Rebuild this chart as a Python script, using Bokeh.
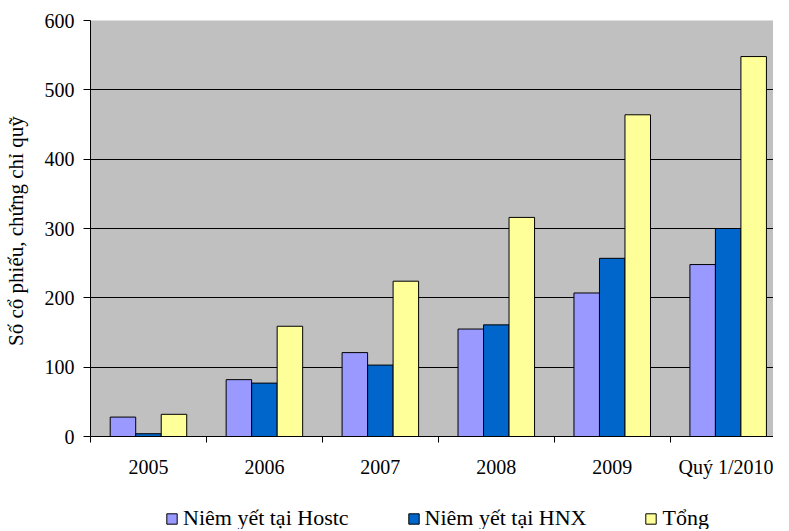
import numpy as np
from bokeh.plotting import figure
from bokeh.layouts import column
from bokeh.models import FixedTicker, Legend, LegendItem, Range1d
from bokeh.embed import file_html
from bokeh.resources import INLINE

categories = ["2005", "2006", "2007", "2008", "2009", "Quý 1/2010"]
hostc = [28, 82, 121, 155, 207, 248]
hnx = [4, 77, 103, 161, 257, 300]
tong = [32, 159, 224, 316, 464, 548]
series_names = ["Niêm yết tại Hostc", "Niêm yết tại HNX", "Tổng"]
colors = ["#9999FF", "#0066CC", "#FFFF99"]
y_ticks = [0, 100, 200, 300, 400, 500, 600]

FONT = "Liberation Serif"

p = figure(width=773, height=481, output_backend="svg", toolbar_location=None,
           x_range=Range1d(0, 5.891), y_range=Range1d(0, 600),
           min_border_left=82, min_border_right=0, min_border_top=20,
           min_border_bottom=45)
p.background_fill_color = "#C0C0C0"
p.border_fill_color = "white"
p.outline_line_color = None

centers = np.arange(len(categories)) + 0.5
bw = 0.22
series = [hostc, hnx, tong]
offsets = [-bw, 0, bw]
for vals, off, col in zip(series, offsets, colors):
    p.vbar(x=centers + off, top=vals, width=bw, bottom=0,
           fill_color=col, line_color="black", line_width=1)

# x axis
p.xaxis.ticker = FixedTicker(ticks=list(centers), minor_ticks=list(range(len(categories))))
p.xaxis.major_label_overrides = {float(c): lab for c, lab in zip(centers, categories)}
p.xaxis.major_tick_line_color = None
p.xaxis.major_tick_out = 0
p.xaxis.major_tick_in = 0
p.xaxis.minor_tick_line_color = "black"
p.xaxis.minor_tick_out = 6
p.xaxis.minor_tick_in = 0
p.xaxis.major_label_standoff = 13
p.xaxis.axis_line_color = "black"
p.xaxis.major_label_text_font = FONT
p.xaxis.major_label_text_font_size = "20px"
p.xaxis.major_label_text_color = "black"
p.xgrid.grid_line_color = None

# y axis
p.yaxis.ticker = FixedTicker(ticks=y_ticks)
p.yaxis.minor_tick_line_color = None
p.yaxis.major_tick_out = 7
p.yaxis.major_tick_in = 0
p.yaxis.major_tick_line_color = "black"
p.yaxis.axis_line_color = "black"
p.yaxis.major_label_standoff = 9
p.yaxis.major_label_text_font = FONT
p.yaxis.major_label_text_font_size = "20px"
p.yaxis.major_label_text_color = "black"
p.yaxis.axis_label = "Số cổ phiếu,  chứng chỉ quỹ"
p.yaxis.axis_label_text_font = FONT
p.yaxis.axis_label_text_font_size = "21px"
p.yaxis.axis_label_text_font_style = "normal"
p.yaxis.axis_label_text_color = "black"
p.yaxis.axis_label_standoff = 14
p.ygrid.grid_line_color = "black"
p.ygrid.grid_line_width = 1

# legend strip: same series as hidden renderers, only their legend entries show
pl = figure(width=773, height=48, output_backend="svg", toolbar_location=None,
            x_range=Range1d(0, 5.891), y_range=Range1d(0, 600),
            min_border_left=0, min_border_right=0, min_border_top=0, min_border_bottom=0)
pl.axis.visible = False
pl.grid.grid_line_color = None
pl.outline_line_color = None
pl.background_fill_color = "white"
legend_renderers = []
for vals, off, c in zip(series, offsets, colors):
    r = pl.vbar(x=centers + off, top=vals, width=bw, bottom=0,
                fill_color=c, line_color="black", line_width=1)
    r.visible = False
    legend_renderers.append(r)
legend = Legend(items=[LegendItem(label=n, renderers=[r]) for n, r in zip(series_names, legend_renderers)],
                orientation="horizontal", location=(75, -2),
                glyph_width=13, glyph_height=13, label_standoff=5, spacing=58,
                padding=0, margin=0, border_line_color=None,
                background_fill_alpha=0, inactive_fill_alpha=0,
                label_text_font=FONT,
                label_text_font_size="22px", label_text_color="black", label_height=22)
pl.add_layout(legend, "center")

layout = column(p, pl, spacing=0)
open("out.html", "w").write(file_html(layout, INLINE))
